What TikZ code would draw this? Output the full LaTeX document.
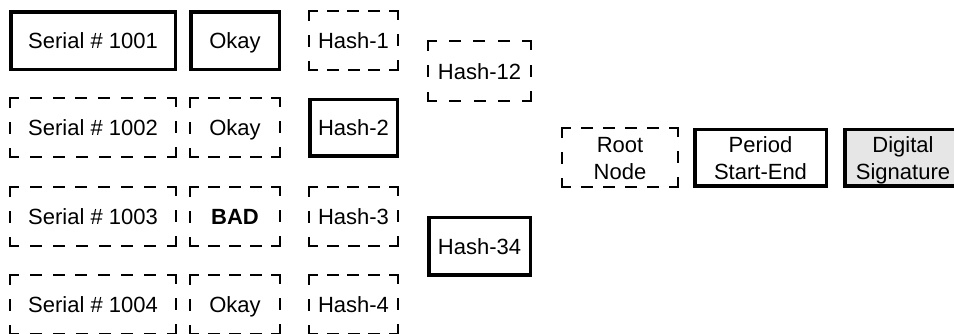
\documentclass[tikz,border=0pt]{standalone}
\usepackage{fontspec}
\setmainfont{Liberation Sans}
\definecolor{siggray}{HTML}{E6E6E6}
\tikzset{
  boxtext/.style={font=\fontsize{22}{27}\selectfont, align=center, inner sep=0pt,
    text height=16pt, text depth=0pt},
  twoline/.style={text height=43pt, text depth=0pt},
  solidbox/.style={boxtext, draw=black, line width=3.5pt},
  dashbox/.style={boxtext, draw=none},
  dside/.style={draw=black, line width=2pt, line cap=rect, dash phase=2pt}
}
% #1 name, #2 x, #3 y, #4 outer width, #5 outer height, #6 extra style, #7 text
\newcommand\mydbox[7]{%
  \node[dashbox, minimum width=#4pt-2pt, minimum height=#5pt-2pt, #6] (#1) at (#2,#3) {#7};
  \pgfmathsetmacro\dbkw{max(0,round((#4-2-28)/24))}%
  \pgfmathsetmacro\dbgw{(#4-2-16-10*\dbkw)/(\dbkw+1)}%
  \pgfmathsetmacro\dbkh{max(0,round((#5-2-28)/24))}%
  \pgfmathsetmacro\dbgh{(#5-2-16-10*\dbkh)/(\dbkh+1)}%
  \draw[dside, dash pattern=on 10pt off \dbgw pt] (#1.north west) -- (#1.north east);
  \draw[dside, dash pattern=on 10pt off \dbgh pt] (#1.north east) -- (#1.south east);
  \draw[dside, dash pattern=on 10pt off \dbgw pt] (#1.south east) -- (#1.south west);
  \draw[dside, dash pattern=on 10pt off \dbgh pt] (#1.south west) -- (#1.north west);
}
\newcommand\mysbox[7]{%
  \node[solidbox, minimum width=#4pt-3.5pt, minimum height=#5pt-3.5pt, #6] (#1) at (#2,#3) {#7};
}
\begin{document}
\begin{tikzpicture}[x=1pt,y=-1pt]
\useasboundingbox (0,0) rectangle (954,333);
% row 1
\mysbox{s1}{93}{40.5}{168}{61}{}{Serial \# 1001}
\mysbox{o1}{235}{40.5}{92}{61}{}{Okay}
\mydbox{h1}{353.5}{40.5}{91}{60}{}{Hash-1}
% row 2
\mydbox{s2}{93}{127.5}{168}{60}{}{Serial \# 1002}
\mydbox{o2}{235}{127.5}{92}{60}{}{Okay}
\mysbox{h2}{353.5}{127.5}{91}{60}{}{Hash-2}
% row 3
\mydbox{s3}{93}{216.5}{168}{60}{}{Serial \# 1003}
\mydbox{o3}{235}{216.5}{92}{60}{}{\textbf{BAD}}
\mydbox{h3}{353.5}{216.5}{91}{60}{}{Hash-3}
% row 4
\mydbox{s4}{93}{304.5}{168}{60}{}{Serial \# 1004}
\mydbox{o4}{235}{304.5}{92}{60}{}{Okay}
\mydbox{h4}{353.5}{304.5}{91}{60}{}{Hash-4}
% level 2
\mydbox{h12}{479.5}{71}{105}{61}{}{Hash-12}
\mysbox{h34}{479.5}{246}{105}{61}{}{Hash-34}
% root block
\mydbox{root}{620}{157.5}{118}{60}{twoline}{Root\\Node}
\mysbox{per}{760.5}{157.5}{135}{60}{twoline}{Period\\Start-End}
\mysbox{sig}{903}{157.5}{120}{60}{twoline, fill=siggray}{Digital\\Signature}
\end{tikzpicture}
\end{document}
